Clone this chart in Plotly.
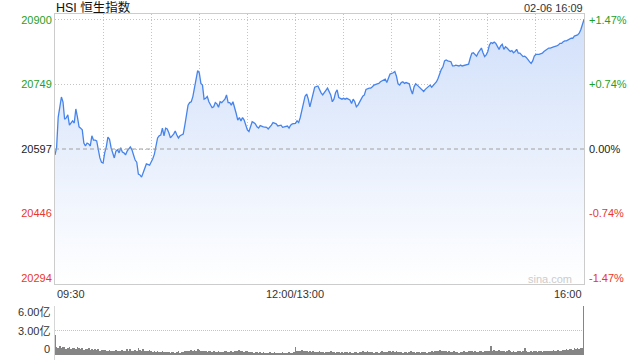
import plotly.graph_objects as go

# ---------------- data ----------------
title_text = "HSI 恒生指数"
stamp_text = "02-06 16:09"
prev_close = 20597

# trading-minute index since 09:30 (lunch break removed; 150 = 12:00/13:00, 330 = 16:00)
minutes = [
    0, 1, 2, 3, 4, 5, 6, 7, 8, 9, 10, 11, 12, 13, 14, 15, 16, 17, 18, 19,
    20, 21, 22, 23, 24, 25, 26, 27, 28, 29, 30, 31, 32, 33, 34, 35, 36, 37, 38, 39,
    40, 41, 42, 43, 44, 45, 47, 48, 49, 50, 51, 52, 53, 54, 55, 56, 57, 59, 60, 61,
    62, 63, 64, 65, 66, 67, 68, 69, 70, 71, 72, 74, 75, 76, 77, 78, 80, 81, 82, 83,
    84, 85, 86, 87, 88, 89, 90, 91, 92, 93, 94, 95, 96, 97, 98, 99, 100, 101, 102, 103,
    104, 105, 106, 107, 108, 109, 110, 111, 112, 113, 114, 115, 116, 117, 118, 119, 120, 121, 122, 123,
    124, 125, 126, 127, 128, 130, 132, 133, 135, 136, 138, 139, 141, 142, 143, 145, 146, 147, 148, 150,
    151, 152, 153, 154, 155, 156, 157, 158, 159, 160, 161, 162, 164, 165, 166, 167, 169, 170, 172, 173,
    174, 175, 176, 177, 179, 180, 181, 182, 184, 185, 186, 187, 188, 189, 191, 192, 193, 194, 196, 197,
    198, 199, 201, 202, 203, 204, 206, 207, 208, 209, 211, 212, 213, 214, 215, 216, 217, 218, 219, 220,
    221, 222, 223, 224, 225, 226, 228, 229, 230, 231, 233, 234, 235, 236, 237, 238, 239, 240, 241, 242,
    243, 244, 245, 247, 248, 249, 250, 252, 253, 254, 256, 258, 259, 260, 261, 263, 264, 265, 266, 267,
    268, 269, 270, 271, 272, 273, 274, 275, 276, 277, 278, 279, 280, 281, 282, 283, 284, 285, 286, 287,
    288, 289, 290, 292, 293, 294, 295, 296, 297, 298, 299, 300, 302, 303, 304, 305, 307, 308, 309, 310,
    311, 313, 314, 315, 316, 317, 318, 319, 321, 322, 323, 324, 326, 327, 328, 329, 330,
]
prices = [
    20583, 20600, 20672, 20696, 20719, 20707, 20667, 20670, 20677, 20653, 20658, 20663, 20658, 20691, 20672, 20649, 20646, 20642, 20611, 20604,
    20611, 20609, 20604, 20628, 20618, 20618, 20616, 20590, 20576, 20566, 20564, 20588, 20602, 20625, 20620, 20600, 20588, 20576, 20592, 20595,
    20588, 20600, 20590, 20588, 20583, 20592, 20602, 20595, 20583, 20571, 20566, 20538, 20536, 20531, 20541, 20550, 20562, 20559, 20566, 20574,
    20585, 20602, 20623, 20628, 20630, 20646, 20628, 20646, 20644, 20635, 20623, 20632, 20639, 20630, 20623, 20628, 20632, 20653, 20672, 20700,
    20706, 20708, 20720, 20740, 20757, 20781, 20776, 20751, 20747, 20714, 20716, 20720, 20708, 20700, 20694, 20696, 20706, 20703, 20695, 20708,
    20706, 20710, 20714, 20724, 20706, 20706, 20700, 20708, 20696, 20681, 20665, 20671, 20663, 20671, 20665, 20653, 20642, 20638, 20649, 20661,
    20659, 20656, 20649, 20646, 20652, 20649, 20648, 20644, 20653, 20659, 20656, 20651, 20653, 20648, 20649, 20651, 20646, 20653, 20656, 20657,
    20663, 20659, 20671, 20690, 20706, 20721, 20726, 20714, 20696, 20714, 20732, 20742, 20745, 20736, 20729, 20724, 20736, 20740, 20724, 20708,
    20714, 20729, 20736, 20718, 20714, 20716, 20714, 20716, 20712, 20704, 20714, 20708, 20696, 20700, 20714, 20721, 20724, 20737, 20740, 20740,
    20743, 20747, 20750, 20751, 20755, 20757, 20761, 20753, 20765, 20773, 20776, 20779, 20768, 20750, 20747, 20753, 20755, 20751, 20753, 20751,
    20750, 20736, 20726, 20743, 20750, 20747, 20740, 20736, 20732, 20737, 20743, 20747, 20742, 20747, 20751, 20755, 20763, 20775, 20784, 20790,
    20804, 20806, 20804, 20802, 20792, 20792, 20794, 20792, 20794, 20792, 20794, 20796, 20810, 20822, 20823, 20815, 20823, 20830, 20834, 20823,
    20814, 20818, 20826, 20841, 20847, 20845, 20848, 20845, 20839, 20831, 20839, 20843, 20831, 20837, 20834, 20830, 20826, 20828, 20823, 20826,
    20831, 20822, 20822, 20814, 20815, 20812, 20806, 20802, 20798, 20804, 20815, 20819, 20819, 20820, 20822, 20826, 20831, 20834, 20834, 20836,
    20837, 20839, 20841, 20845, 20845, 20849, 20851, 20851, 20855, 20857, 20857, 20862, 20865, 20869, 20877, 20888, 20901,
]

# volume per trading minute (亿), index 0..330
volume = [
    2.4, 1.0, 0.9, 1.05, 0.8, 0.95, 1.0, 0.7, 0.9, 1.0,
    0.75, 0.9, 0.8, 0.7, 0.95, 0.8, 0.7, 0.85, 0.65, 0.75,
    0.7, 0.8, 0.6, 0.7, 0.65, 0.75, 0.6, 0.7, 0.55, 0.65,
    0.6, 0.65, 0.5, 0.55, 0.6, 0.45, 0.55, 0.5, 0.6, 0.45,
    0.55, 0.5, 0.65, 0.45, 0.55, 0.7, 0.5, 0.75, 0.55, 0.5,
    0.65, 0.55, 0.8, 0.6, 0.55, 0.7, 0.5, 0.55, 0.45, 0.6,
    0.45, 0.4, 0.5, 0.4, 0.45, 0.35, 0.4, 0.45, 0.35, 0.4,
    0.35, 0.4, 0.3, 0.35, 0.4, 0.3, 0.35, 0.45, 0.3, 0.35,
    0.4, 0.45, 0.5, 0.55, 0.45, 0.6, 0.5, 0.65, 0.55, 0.7,
    0.6, 0.5, 0.55, 0.45, 0.5, 0.4, 0.45, 0.5, 0.4, 0.45,
    0.4, 0.35, 0.45, 0.4, 0.35, 0.4, 0.45, 0.5, 0.4, 0.35,
    0.45, 0.4, 0.5, 0.55, 0.45, 0.6, 0.5, 0.45, 0.4, 0.5,
    0.45, 0.4, 0.35, 0.4, 0.3, 0.35, 0.4, 0.3, 0.35, 0.3,
    0.35, 0.3, 0.25, 0.3, 0.35, 0.25, 0.3, 0.35, 0.3, 0.25,
    0.3, 0.25, 0.35, 0.3, 0.25, 0.3, 0.35, 0.25, 0.3, 0.35,
    1.0, 0.5, 0.45, 0.5, 0.6, 0.55, 0.5, 0.45, 0.4, 0.45,
    0.4, 0.45, 0.35, 0.4, 0.35, 0.45, 0.4, 0.35, 0.3, 0.4,
    0.35, 0.4, 0.45, 0.35, 0.4, 0.3, 0.35, 0.4, 0.3, 0.35,
    0.3, 0.35, 0.4, 0.3, 0.35, 0.25, 0.3, 0.35, 0.4, 0.3,
    0.35, 0.4, 0.45, 0.35, 0.4, 0.5, 0.4, 0.35, 0.4, 0.3,
    0.35, 0.4, 0.3, 0.35, 0.45, 0.4, 0.35, 0.4, 0.45, 0.5,
    0.4, 0.45, 0.35, 0.5, 0.4, 0.35, 0.4, 0.3, 0.35, 0.4,
    0.3, 0.35, 0.45, 0.4, 0.35, 0.3, 0.35, 0.4, 0.3, 0.35,
    0.4, 0.35, 0.3, 0.4, 0.35, 0.45, 0.4, 0.5, 0.45, 0.55,
    0.6, 0.5, 0.55, 0.45, 0.5, 0.4, 0.45, 0.35, 0.4, 0.45,
    0.35, 0.4, 0.3, 0.35, 0.4, 0.45, 0.35, 0.4, 0.5, 0.45,
    0.5, 0.4, 0.45, 0.35, 0.4, 0.45, 0.5, 0.4, 0.45, 0.5,
    0.55, 0.45, 1.1, 0.5, 0.6, 0.45, 0.55, 0.65, 0.5, 0.45,
    0.5, 0.4, 0.45, 0.6, 0.5, 0.4, 0.45, 0.35, 0.4, 0.5,
    0.45, 0.4, 0.5, 0.9, 0.45, 0.4, 0.35, 0.45, 0.4, 0.5,
    0.45, 0.4, 0.5, 0.45, 0.4, 0.5, 0.45, 0.55, 0.5, 0.45,
    0.5, 0.6, 0.5, 0.55, 0.6, 0.5, 0.55, 0.65, 0.6, 0.7,
    0.65, 0.7, 0.75, 0.65, 0.8, 0.7, 0.9, 0.75, 0.8, 0.9,
    6.0,
]
volume_minutes = list(range(len(volume)))

price_ticks = [20294, 20446, 20597, 20749, 20900]
price_labels = ["20294", "20446", "20597", "20749", "20900"]
pct_labels = ["-1.47%", "-0.74%", "0.00%", "+0.74%", "+1.47%"]
time_ticks = [0, 30, 60, 90, 120, 150, 180, 210, 240, 270, 300, 330]
time_labels = [(0, "09:30"), (150, "12:00/13:00"), (330, "16:00")]
vol_ticks = [0, 3, 6]
vol_labels = ["0", "3.00亿", "6.00亿"]

price_range = [20280, 20914]
vol_range = [-0.61, 6]

# ---------------- styling ----------------
GREEN = "#1fa01f"
RED = "#e8372c"
FONT = "Liberation Sans, Arial, Noto Sans CJK SC, sans-serif"
GRID = "#c4c4c4"
vol_label_shift = [6, -0.5, -5.5]   # pixel nudges of the volume-axis labels


def colored(label, value):
    if value > prev_close:
        c = GREEN
    elif value < prev_close:
        c = RED
    else:
        c = "#222222"
    return f'<span style="color:{c}">{label}</span>'


left_text = [colored(l, v) for l, v in zip(price_labels, price_ticks)]
right_text = [colored(l, v) for l, v in zip(pct_labels, price_ticks)]

fig = go.Figure()

fig.add_trace(go.Scatter(
    x=minutes, y=prices, mode="lines",
    line=dict(color="#4684ec", width=1.3),
    fill="tozeroy",
    fillgradient=dict(type="vertical",
                      colorscale=[[0, "rgba(255,255,255,1)"], [1, "rgba(208,223,250,1)"]],
                      start=price_range[0], stop=price_range[1]),
    hoverinfo="skip", showlegend=False,
    xaxis="x", yaxis="y",
))
fig.add_trace(go.Scatter(
    x=minutes, y=prices, mode="lines", line=dict(width=0, color="rgba(0,0,0,0)"),
    hoverinfo="skip", showlegend=False, xaxis="x", yaxis="y2",
))
fig.add_trace(go.Bar(
    x=volume_minutes, y=volume, width=0.45,
    marker=dict(color="#858585", line=dict(width=0)),
    hoverinfo="skip", showlegend=False, xaxis="x3", yaxis="y3",
))

x_dom = [55 / 640, 584 / 640]
fig.update_layout(
    template="none",
    width=640, height=360,
    margin=dict(l=0, r=0, t=0, b=0, autoexpand=False),
    paper_bgcolor="white", plot_bgcolor="rgba(0,0,0,0)",
    font=dict(family=FONT, size=11, color="#333333"),
    xaxis=dict(domain=x_dom, range=[0, 330], anchor="y", automargin=False,
               tickvals=time_ticks, showticklabels=False, ticks="",
               showgrid=True, gridcolor=GRID, griddash="1px,2px", gridwidth=1,
               showline=True, linecolor="#cccccc", linewidth=1, mirror=True,
               zeroline=False, fixedrange=True),
    yaxis=dict(domain=[1 - 284 / 360, 1 - 14 / 360], range=price_range, automargin=False,
               tickvals=price_ticks, ticktext=left_text, ticks="",
               tickfont=dict(size=11),
               showgrid=True, gridcolor=GRID, griddash="1px,2px", gridwidth=1,
               showline=True, linecolor="#cccccc", linewidth=1, mirror=True,
               zeroline=False, fixedrange=True),
    yaxis2=dict(overlaying="y", side="right", anchor="x", range=price_range, automargin=False,
                tickvals=price_ticks, ticktext=right_text, ticks="", ticklabelstandoff=4,
                tickfont=dict(size=11), showgrid=False, zeroline=False,
                showline=False, fixedrange=True),
    xaxis3=dict(domain=x_dom, range=[0, 330], anchor="y3", automargin=False,
                showticklabels=False, ticks="", showgrid=False,
                showline=False, zeroline=False, fixedrange=True),
    yaxis3=dict(domain=[0, 1 - 306 / 360], range=vol_range, anchor="x3",
                automargin=False,
                tickvals=vol_ticks[1:], showticklabels=False, ticks="",
                showgrid=True, gridcolor=GRID, griddash="1px,1px", gridwidth=1,
                showline=True, linecolor="#d6d6d6", linewidth=1,
                zeroline=False, fixedrange=True),
    bargap=0,
)

# volume axis labels
for v, txt, sh in zip(vol_ticks, vol_labels, vol_label_shift):
    fig.add_annotation(x=52 / 640, xref="paper", y=v, yref="y3", text=txt,
                       showarrow=False, xanchor="right", yanchor="middle", yshift=sh,
                       font=dict(size=11, color="#333333"))

# previous-close reference line
fig.add_shape(type="line", xref="x", yref="y", x0=0, x1=330, y0=prev_close, y1=prev_close,
              line=dict(color="#a0a0a0", width=1, dash="4px,3px"), layer="above")

# x labels
for xv, txt in time_labels:
    anchor = "left" if xv == time_ticks[0] else ("right" if xv == time_ticks[-1] else "center")
    fig.add_annotation(x=xv, xref="x", y=1 - 293.5 / 360, yref="paper", text=txt,
                       showarrow=False, xanchor=anchor, yanchor="middle",
                       font=dict(size=11, color="#333333"))

# titles
fig.add_annotation(x=54 / 640, y=1 - 7 / 360, xref="paper", yref="paper", text=title_text,
                   showarrow=False, xanchor="left", yanchor="middle",
                   font=dict(size=12.5, color="#111111"))
fig.add_annotation(x=585 / 640, y=1 - 7.5 / 360, xref="paper", yref="paper", text=stamp_text,
                   showarrow=False, xanchor="right", yanchor="middle",
                   font=dict(size=11, color="#333333"))
fig.add_annotation(x=574 / 640, y=1 - 278.5 / 360, xref="paper", yref="paper", text="sina.com",
                   showarrow=False, xanchor="right", yanchor="middle",
                   font=dict(size=11, color="#cccccc"))

fig.write_html("out.html", config=dict(displayModeBar=False))
